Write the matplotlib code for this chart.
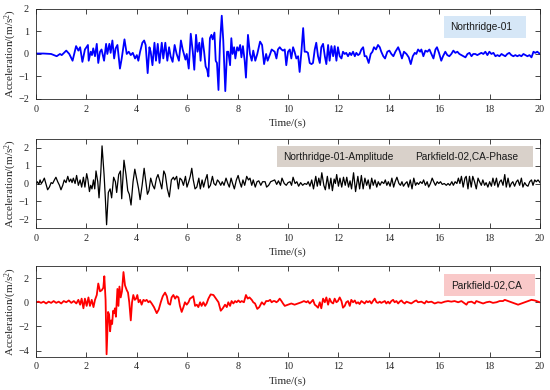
import matplotlib
matplotlib.use("Agg")
import matplotlib.pyplot as plt
from matplotlib.patches import Rectangle

plt.rcParams['font.family'] = ['Liberation Serif', 'DejaVu Serif']
plt.rcParams['mathtext.fontset'] = 'custom'
plt.rcParams['mathtext.rm'] = 'Liberation Serif'
plt.rcParams['mathtext.it'] = 'Liberation Serif:italic'

# ---------------- data ----------------
x_ticks = [0, 2, 4, 6, 8, 10, 12, 14, 16, 18, 20]
y_ticks1 = [-2, -1, 0, 1, 2]
y_ticks2 = [-2, -1, 0, 1, 2]
y_ticks3 = [-4, -2, 0, 2]
labels = ["Northridge-01", "Northridge-01-Amplitude", "Parkfield-02,CA-Phase", "Parkfield-02,CA"]

# Northridge-01 (blue)
t1 = [0.0, 0.3, 0.6, 0.82, 0.95, 1.02, 1.2, 1.32, 1.45, 1.59, 1.68, 1.75, 1.84, 1.94, 2.06, 2.09, 2.17, 2.22,
      2.27, 2.34, 2.41, 2.47, 2.54, 2.6, 2.70, 2.78, 2.83, 2.91, 2.96, 3.03, 3.1, 3.16, 3.23, 3.33, 3.4, 3.51,
      3.6, 3.68, 3.76, 3.84, 3.93, 4.0, 4.06, 4.13, 4.22, 4.29, 4.35, 4.43, 4.5, 4.55, 4.62, 4.7, 4.76, 4.83,
      4.9, 4.99, 5.05, 5.13, 5.21, 5.28, 5.34, 5.42, 5.5, 5.58, 5.67, 5.75, 5.82, 5.93, 5.98, 6.06, 6.14, 6.22,
      6.28, 6.35, 6.41, 6.48, 6.53, 6.6, 6.67, 6.73, 6.79, 6.84, 6.9, 6.96, 7.01, 7.08, 7.13, 7.18, 7.24, 7.3,
      7.37, 7.43, 7.51, 7.58, 7.63, 7.7, 7.75, 7.8, 7.86, 7.91, 7.98, 8.04, 8.1, 8.15, 8.21, 8.28, 8.33, 8.41,
      8.49, 8.56, 8.62, 8.7, 8.78, 8.89, 8.97, 9.05, 9.13, 9.19, 9.29, 9.35,
      9.47, 9.54, 9.60, 9.67, 9.74, 9.80, 9.87, 9.93, 10.0, 10.07, 10.13, 10.2, 10.26, 10.33, 10.4, 10.46,
      10.53, 10.6, 10.66, 10.73, 10.79, 10.86, 10.93, 10.99, 11.06, 11.12, 11.19, 11.26, 11.32, 11.39, 11.46,
      11.52, 11.59, 11.65, 11.72, 11.79, 11.85, 11.92, 11.98, 12.05, 12.12, 12.18, 12.25, 12.31, 12.38, 12.45,
      12.51, 12.58, 12.65, 12.71, 12.78, 12.84, 12.91, 12.98, 13.04, 13.11, 13.2, 13.28, 13.35, 13.41, 13.49,
      13.57, 13.64, 13.7, 13.78, 13.85, 13.94, 14.02, 14.1, 14.18, 14.26, 14.37, 14.44, 14.52, 14.6, 14.7,
      14.79, 14.87, 14.95, 15.03, 15.09, 15.16, 15.24, 15.29, 15.37, 15.45, 15.53, 15.61, 15.69, 15.77, 15.85,
      15.91, 15.99, 16.08, 16.15, 16.24, 16.32, 16.4, 16.48, 16.56, 16.64, 16.72, 16.8, 16.88, 16.96, 17.04,
      17.12, 17.2, 17.28, 17.35, 17.43, 17.51, 17.59, 17.67, 17.75, 17.83, 17.91, 17.99, 18.07, 18.15, 18.23,
      18.31, 18.39, 18.47, 18.54, 18.62, 18.7, 18.78, 18.86, 18.94, 19.02, 19.1, 19.18, 19.26, 19.34, 19.42,
      19.5, 19.58, 19.66, 19.74, 19.81, 19.89, 20.0]
a1 = [0.02, 0.02, 0.0, -0.1, 0.0, -0.05, 0.15, 0.0, -0.3, 0.35, 0.15, 0.3, -0.35, 0.2, 0.4, -0.3, 0.1, -0.05,
      0.25, -0.1, 0.45, -0.4, 0.1, 0.2, -0.3, 0.45, 0.0, 0.45, 0.05, 0.6, -0.2, 0.25, 0.4, -0.65, -0.2, 0.65,
      0.0, 0.1, -0.05, 0.05, -0.2, -0.05, -0.3, 0.1, 0.5, 0.6, 0.4, -0.85, 0.3, 0.1, -0.5, 0.5, -0.3, 0.45,
      -0.4, 0.5, -0.2, 0.5, -0.3, 0.3, -0.1, -0.35, 0.4, 0.0, -0.3, 0.6, 0.2, -0.25, 0.0, -0.65, 0.9, 0.1,
      -0.7, 0.85, 0.1, 0.5, -0.3, 0.7, 0.1, -0.55, -0.7, -1.0, 0.7, 0.85, 0.65, 0.95, -0.3, -0.4, -1.6, 0.5,
      1.7, 0.6, -1.65, 0.1, 0.1, -0.5, 0.7, 0.0, 0.3, -0.2, 0.3, 0.15, 0.4, -0.15, 0.35, -0.3, -1.05, 0.85,
      0.0, -0.3, 0.15, -0.3, 0.0, 0.55, 0.4, -0.45, 0.0, -0.3, 0.0, 0.2,
      0.1, -0.2, 0.2, 0.3, 0.2, 0.15, 0.2, -0.5, 0.1, 0.2, -0.2, 0.3, 0.1, -0.2, -0.1, -0.8,
      0.1, 1.15, 0.1, 0.1, 0.05, -0.4, -0.45, -0.4, 0.2, 0.5, -0.1, -0.4, 0.3, 0.45, -0.1,
      -0.45, 0.4, -0.3, 0.35, -0.1, 0.35, -0.3, 0.3, -0.1, -0.2, 0.1, 0.0, 0.05, -0.1, 0.05,
      -0.05, 0.1, -0.1, 0.05, -0.05, 0.0, 0.2, 0.3, -0.1, -0.1, -0.4, 0.0, 0.1, 0.3, 0.2,
      0.4, 0.3, 0.1, -0.1, -0.2, 0.1, 0.15, 0.0, -0.1, 0.1, 0.3, 0.1, -0.2, 0.1, 0.0,
      -0.15, -0.45, -0.1, 0.05, 0.0, 0.2, 0.1, 0.2, -0.1, 0.15, 0.1, 0.2, 0.0, -0.2, 0.2,
      0.3, 0.05, -0.3, -0.1, 0.1, -0.05, -0.1, 0.0, 0.15, 0.05, 0.1, 0.0, -0.05, -0.1, -0.15,
      0.0, 0.05, -0.1, 0.0, 0.0, -0.05, 0.0, 0.05, 0.0, 0.1, -0.05, 0.1, 0.0, 0.05, -0.1,
      -0.05, -0.1, 0.0, -0.05, -0.1, 0.0, 0.05, -0.05, -0.1, -0.05, -0.1, -0.05, -0.1, 0.0, -0.05,
      -0.1, -0.05, -0.15, 0.1, 0.05, 0.1, 0.0]

# Northridge-01 amplitude + Parkfield-02,CA phase (black)
t2 = [0.00, 0.05, 0.11, 0.16, 0.21, 0.26, 0.33, 0.40, 0.46, 0.53, 0.60, 0.66, 0.73, 0.79, 0.86, 0.93, 0.99,
      1.06, 1.12, 1.19, 1.26, 1.32, 1.38, 1.43, 1.48, 1.55, 1.61, 1.68, 1.75, 1.81, 1.88, 1.94, 2.01, 2.06,
      2.12, 2.17, 2.22, 2.28, 2.33, 2.38, 2.45, 2.50, 2.57, 2.62, 2.70, 2.75, 2.80, 2.87, 2.94, 3.00, 3.08,
      3.15, 3.20, 3.28, 3.35, 3.40, 3.49, 3.57, 3.64, 3.70, 3.77, 3.85, 3.92, 3.99, 4.07, 4.13, 4.21, 4.29,
      4.35, 4.42, 4.48, 4.55, 4.63, 4.70, 4.78, 4.84, 4.92, 4.99, 5.07, 5.13, 5.21, 5.29, 5.37, 5.45, 5.50,
      5.58, 5.65, 5.71, 5.78, 5.85, 5.93, 5.99, 6.06, 6.12, 6.18, 6.24, 6.31, 6.38, 6.46, 6.52, 6.59, 6.65,
      6.72, 6.79, 6.85, 6.92, 7.00, 7.06, 7.13, 7.20, 7.26, 7.33, 7.39, 7.46, 7.54, 7.61, 7.67, 7.74, 7.80,
      7.87, 7.95, 8.02, 8.08, 8.15, 8.21, 8.28, 8.36, 8.43, 8.49, 8.56, 8.62, 8.70, 8.77, 8.84, 8.92, 8.99,
      9.09, 9.15, 9.23, 9.31, 9.39,
      9.47, 9.55, 9.62, 9.7, 9.76, 9.85, 9.93, 10.0, 10.08, 10.14, 10.2, 10.28, 10.35, 10.42, 10.5, 10.58,
      10.66, 10.74, 10.8, 10.87, 10.94, 11.01, 11.1, 11.16, 11.22, 11.28, 11.34, 11.42, 11.48, 11.56, 11.63,
      11.7, 11.76, 11.83, 11.88, 11.93, 12.0, 12.06, 12.13, 12.2, 12.27, 12.33, 12.4, 12.46, 12.52, 12.6,
      12.68, 12.77, 12.84, 12.91, 12.98, 13.05, 13.12, 13.18, 13.25, 13.32, 13.38, 13.45, 13.52, 13.58,
      13.65, 13.72, 13.8, 13.86, 13.92, 13.98, 14.05, 14.12, 14.19, 14.25, 14.32, 14.4, 14.46, 14.52, 14.58,
      14.65, 14.72, 14.78, 14.85, 14.92, 14.99, 15.06, 15.12, 15.18, 15.25, 15.32, 15.38, 15.45, 15.52,
      15.58, 15.65, 15.72, 15.78, 15.85, 15.92, 15.98, 16.05, 16.12, 16.2, 16.28, 16.35, 16.42, 16.5, 16.56,
      16.63, 16.7, 16.76, 16.82, 16.88, 16.95, 17.02, 17.07, 17.14, 17.2, 17.27, 17.33, 17.4, 17.47, 17.54,
      17.6, 17.67, 17.73, 17.8, 17.86, 17.93, 18.0, 18.07, 18.13, 18.2, 18.27, 18.33, 18.4, 18.46, 18.53,
      18.6, 18.66, 18.73, 18.8, 18.86, 18.92, 18.99, 19.06, 19.12, 19.19, 19.26, 19.32, 19.39, 19.46, 19.52,
      19.59, 19.66, 19.72, 19.79, 19.85, 19.92, 20.0]
a2 = [0.0, 0.1, -0.05, 0.2, 0.0, 0.1, 0.3, -0.05, -0.35, -0.2, 0.05, 0.0, 0.2, 0.35, 0.1, -0.1, -0.35,
      -0.1, 0.2, 0.05, 0.4, 0.1, 0.25, 0.05, 0.3, 0.0, 0.45, -0.1, 0.2, -0.2, 0.35, -0.2, 0.55, 0.2,
      -0.45, -0.1, -0.3, 0.2, -0.3, 0.7, 0.1, -0.8, 0.6, 2.1, 0.5, -0.8, -2.3, -0.5, -0.3, -0.8, 0.35,
      0.1, -0.5, 0.5, 0.7, -0.85, 1.3, 0.5, -0.4, -0.6, -1.2, 0.1, 0.8, 0.3, -0.3, -0.9, -0.1, 0.85,
      0.2, -0.6, -0.4, 0.3, -0.1, -0.3, 0.3, 0.5, 0.1, -0.3, 0.7, 0.5, -0.3, -0.75, 0.2, 0.35, 0.2,
      0.4, -0.3, 0.3, 0.2, -0.1, 0.4, -0.2, 0.1, 0.4, 0.85, 0.2, -0.3, -0.2, 0.3, -0.3, 0.2, -0.2,
      0.2, 0.5, -0.25, -0.1, 0.4, 0.0, -0.1, 0.2, 0.1, -0.1, 0.1, -0.1, 0.3, 0.0, -0.2, 0.3, 0.0,
      -0.3, 0.2, 0.45, 0.1, -0.2, 0.2, -0.1, 0.4, 0.2, 0.3, -0.1, 0.2, -0.2, 0.1, 0.15, -0.1, 0.1,
      0.1, -0.2, -0.1, 0.1, 0.15,
      0.2, -0.05, 0.15, -0.1, 0.3, 0.0, -0.1, 0.05, 0.1, -0.1, 0.35, 0.0, 0.1, -0.15, 0.05, -0.1,
      0.0, -0.05, 0.1, -0.15, 0.2, -0.3, 0.4, -0.15, 0.3, -0.1, 0.6, -0.1, -0.35, 0.4, -0.3,
      0.3, -0.4, 0.25, 0.0, 0.5, -0.15, 0.3, -0.2, 0.35, -0.1, 0.35, -0.2, 0.15, -0.3, 0.6,
      -0.45, 0.4, -0.3, 0.45, -0.3, 0.3, -0.1, 0.2, -0.3, 0.3, -0.1, 0.2, -0.2, 0.1,
      -0.1, 0.1, 0.0, 0.2, -0.1, 0.1, -0.15, 0.3, -0.2, 0.1, 0.35, 0.0, -0.1, 0.1, -0.15,
      0.0, 0.1, -0.2, 0.2, -0.3, 0.3, -0.1, 0.05, -0.05, 0.1, 0.0, 0.2, -0.1, 0.1,
      -0.2, 0.0, 0.3, 0.1, -0.1, 0.1, 0.0, 0.1, -0.05, 0.0, -0.1, 0.0, -0.1, 0.1, -0.1,
      0.1, 0.0, 0.3, 0.0, 0.4, -0.2, 0.3, 0.4, -0.3, 0.4, -0.2, 0.4, 0.1, -0.3, 0.3,
      0.1, -0.1, 0.2, -0.1, 0.05, -0.2, 0.1, -0.15, 0.3, -0.1, 0.3, -0.2, 0.1, 0.2, -0.1,
      0.5, -0.2, 0.3, -0.2, 0.0, 0.1, -0.15, 0.1, 0.2, -0.1, 0.3, -0.2, 0.05, -0.1, -0.15,
      0.1, 0.2, -0.1, 0.2, 0.1, 0.2, 0.05]

# Parkfield-02,CA (red)
t3 = [0.0, 0.1, 0.2, 0.3, 0.4, 0.5, 0.6, 0.7, 0.8, 0.9, 1.0, 1.1, 1.2, 1.3, 1.4, 1.5, 1.6,
      1.68, 1.75, 1.81, 1.88, 1.94, 2.01, 2.08, 2.14, 2.21, 2.28, 2.34, 2.41, 2.47, 2.54, 2.61, 2.67,
      2.71, 2.76, 2.80, 2.86, 2.90, 2.94, 2.98, 3.02, 3.06, 3.10, 3.13, 3.17, 3.23, 3.27, 3.31, 3.36,
      3.41, 3.47, 3.53, 3.60, 3.65, 3.70, 3.76, 3.81, 3.86, 3.92, 3.97, 4.02, 4.07, 4.13, 4.19, 4.26,
      4.33, 4.39, 4.46, 4.52, 4.59, 4.68, 4.79, 4.87, 4.95, 5.03, 5.12, 5.19, 5.25, 5.32, 5.38, 5.45,
      5.52, 5.58, 5.65, 5.71, 5.78, 5.85, 5.91, 5.98, 6.05, 6.11, 6.18, 6.24, 6.31, 6.38, 6.44, 6.51,
      6.57, 6.64, 6.71, 6.77, 6.84, 6.93, 7.04, 7.14, 7.24, 7.33, 7.41, 7.50, 7.57, 7.63, 7.70, 7.76,
      7.83, 7.90, 7.96, 8.03, 8.10, 8.16, 8.25, 8.33, 8.40, 8.47, 8.56, 8.62, 8.69, 8.78, 8.86, 8.96,
      9.05, 9.13, 9.22, 9.29, 9.35, 9.42,
      9.47, 9.54, 9.60, 9.67, 9.74, 9.80, 9.87, 10.00, 10.13, 10.26, 10.40, 10.53, 10.63, 10.73, 10.79,
      10.86, 10.93, 10.99, 11.06, 11.12, 11.19, 11.26, 11.32, 11.39, 11.46, 11.52, 11.59, 11.65, 11.72,
      11.79, 11.85, 11.92, 11.98, 12.05, 12.12, 12.18, 12.25, 12.31, 12.38, 12.45, 12.51, 12.58, 12.65,
      12.71, 12.78, 12.84, 12.91, 12.98, 13.04, 13.11, 13.17, 13.24, 13.31, 13.37, 13.44, 13.51, 13.57,
      13.64, 13.70, 13.84, 13.90, 13.97, 14.03, 14.10, 14.17, 14.23, 14.30, 14.37, 14.43, 14.50, 14.56,
      14.63, 14.70, 14.76, 14.89, 15.03, 15.09, 15.16, 15.29, 15.42, 15.49, 15.56, 15.69, 15.82, 15.95,
      16.08, 16.22, 16.35, 16.48, 16.61, 16.75, 16.88, 17.01, 17.08, 17.14, 17.28, 17.41, 17.47, 17.61,
      17.74, 17.87, 18.00, 18.13, 18.27, 18.40, 18.53, 18.60, 18.73, 18.86, 18.99, 19.13, 19.26, 19.39,
      19.52, 19.66, 19.79, 19.92, 19.99]
a3 = [0.0, 0.05, -0.05, 0.05, -0.1, 0.05, -0.05, 0.1, -0.05, 0.05, -0.1, 0.1, 0.0, 0.15, -0.05, 0.1, -0.1,
      0.2, -0.2, 0.3, -0.5, 0.3, -0.3, 0.4, -0.3, 0.2, -0.4, 0.2, 0.6, 1.55, 0.9, 1.0, 1.2,
      2.15, 0.2, -4.3, -0.8, -1.0, -2.4, -1.5, -1.8, -0.7, -0.9, -0.5, -1.2, 1.1, -0.3, 1.3, 0.4,
      0.9, 2.5, 1.4, 1.0, 0.8, 0.0, -1.5, 0.0, 0.6, 0.2, 0.3, 0.6, 0.0, 0.2, -0.2, 0.2,
      0.1, 0.2, 0.0, 0.1, -0.1, -0.4, -0.9, -0.6, 0.0, 0.5, 0.8, 0.5, -0.1, -0.2, 0.4, 0.6,
      0.3, 0.5, 0.4, -0.3, -0.8, -0.4, 0.0, -0.2, 0.0, 0.3, 0.4, 0.5, -0.3, -0.2, -0.4, 0.0,
      -0.3, 0.0, -0.3, -0.1, 0.3, 0.65, 0.6, 0.3, 0.0, -0.7, -0.5, -0.2, -0.4, 0.0, -0.3, 0.1,
      -0.1, 0.1, 0.0, 0.15, 0.0, 0.1, 0.0, 0.6, 0.3, 0.4, 0.2, 0.0, -0.1, -0.55, -0.4, 0.0,
      -0.2, 0.1, 0.1, 0.2, 0.0, 0.1,
      0.1, 0.0, 0.1, 0.3, 0.1, -0.1, -0.3, -0.2, -0.1, -0.2, -0.1, 0.0, 0.1, 0.0, 0.1,
      -0.1, 0.05, 0.2, -0.2, -0.3, -0.45, 0.0, -0.5, 0.3, 0.0, 0.4, -0.2, 0.3, 0.0,
      -0.1, 0.3, 0.0, 0.1, 0.4, 0.1, -0.45, -0.3, 0.0, 0.1, -0.3, 0.2, 0.0, 0.15,
      -0.1, 0.0, -0.15, 0.1, 0.0, -0.1, 0.1, 0.0, 0.1, -0.1, 0.1, 0.3, 0.0, -0.05,
      0.05, -0.05, 0.1, -0.1, 0.05, -0.1, 0.1, 0.2, 0.0, 0.1, -0.1, 0.05, 0.15, 0.0,
      -0.1, 0.05, 0.0, -0.1, 0.1, 0.15, 0.0, 0.05, -0.1, 0.1, 0.0, 0.05, -0.1, 0.0,
      -0.05, 0.05, 0.1, 0.05, 0.1, 0.0, 0.1, -0.1, -0.2, 0.0, 0.05, -0.1, 0.1, 0.0,
      -0.1, 0.0, 0.05, -0.05, 0.0, 0.1, 0.1, 0.2, 0.1, 0.0, -0.1, -0.2, -0.1, 0.0,
      0.1, 0.2, 0.15, 0.05, 0.0]

# ---------------- figure ----------------
fig = plt.figure(figsize=(5.5, 3.9), dpi=100)
ax1 = fig.add_axes([0.0655, 0.7462, 0.9164, 0.2308])
ax2 = fig.add_axes([0.0655, 0.4146, 0.9164, 0.2297])
ax3 = fig.add_axes([0.0655, 0.0854, 0.9164, 0.2326])

axc = '#262626'
for ax, t, a, col, lw, ylim, yt in [(ax1, t1, a1, '#0000ff', 1.3, (-2, 2), y_ticks1),
                                    (ax2, t2, a2, '#000000', 0.9, (-2.5, 2.5), y_ticks2),
                                    (ax3, t3, a3, '#ff0000', 1.3, (-4.5, 3), y_ticks3)]:
    ax.plot(t, a, color=col, lw=lw, solid_joinstyle='round')
    ax.set_xlim(0, 20)
    ax.set_ylim(*ylim)
    ax.set_xticks(x_ticks)
    ax.set_yticks(yt)
    ax.tick_params(direction='in', length=3.5, width=0.6, top=True, right=True,
                   labelsize=7.3, colors=axc, pad=4)
    ax.tick_params(axis='y', pad=5)
    for s in ax.spines.values():
        s.set_color(axc)
        s.set_linewidth(0.6)
    ax.set_xlabel('Time/(s)', fontsize=8, color=axc)
    ax.set_ylabel(r'Acceleration/(m/s$^{2}$)', fontsize=8, color=axc)
    ax.xaxis.set_label_coords(0.5, -0.215)
    ax.yaxis.set_label_coords(-0.033, 0.5)

sans = ['Liberation Sans', 'DejaVu Sans']
# label boxes
ax1.add_patch(Rectangle((0.8095, 0.678), 0.1627, 0.244, transform=ax1.transAxes,
                        facecolor='#d6e7f7', edgecolor='none', zorder=3))
ax1.text(0.884, 0.80, labels[0], transform=ax1.transAxes, ha='center', va='center',
         fontsize=7.3, family=sans, color='#1a1a1a', zorder=4)

ax2.add_patch(Rectangle((0.478, 0.684), 0.508, 0.234, transform=ax2.transAxes,
                        facecolor='#d9d1ca', edgecolor='none', zorder=3))
ax2.text(0.490, 0.801, labels[1], transform=ax2.transAxes, ha='left', va='center',
         fontsize=7.3, family=sans, color='#1a1a1a', zorder=4)
ax2.text(0.753, 0.801, labels[2], transform=ax2.transAxes, ha='left', va='center',
         fontsize=7.3, family=sans, color='#1a1a1a', zorder=4)

ax3.add_patch(Rectangle((0.8095, 0.672), 0.1805, 0.240, transform=ax3.transAxes,
                        facecolor='#f9c9c9', edgecolor='none', zorder=3))
ax3.text(0.893, 0.79, labels[3], transform=ax3.transAxes, ha='center', va='center',
         fontsize=7.3, family=sans, color='#1a1a1a', zorder=4)

fig.savefig('out.png', dpi=100)
